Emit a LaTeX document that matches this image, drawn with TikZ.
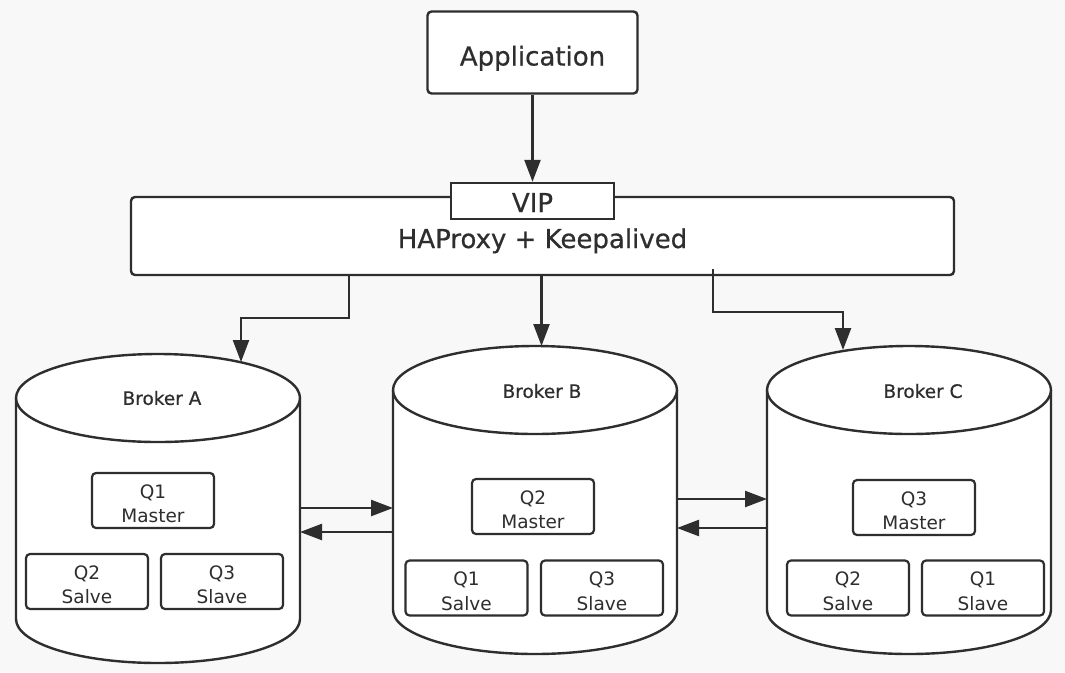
\documentclass[tikz,border=0pt]{standalone}
\usepackage{fontspec}
\setmainfont{DejaVu Sans}
\newfontfamily\heavyfont[FakeBold=0.6]{DejaVu Sans}
\usetikzlibrary{arrows.meta}
\definecolor{ink}{HTML}{2E2E2E}
\definecolor{bg}{HTML}{F8F8F8}
\newcommand{\cylbody}[3]{%
  \fill[white] (#1-142,#2) rectangle (#1+142,#3);
  \fill[white] (#1,#3) ellipse[x radius=142pt,y radius=44pt];
  \draw[cylline] (#1-142,#2) -- (#1-142,#3) arc[start angle=180,end angle=360,x radius=142pt,y radius=44pt] -- (#1+142,#2);
  \draw[cylline,fill=white] (#1,#2) ellipse[x radius=142pt,y radius=44pt];
}
\newcommand{\qlab}[2]{\smash{\raisebox{2.5pt}{\begin{tabular}[t]{@{}c@{}}#1\\#2\end{tabular}}}}
\newcommand{\baselab}[2]{\smash{\raisebox{-#1}{#2}}}
\begin{document}
\begin{tikzpicture}[x=1pt,y=-1pt,
  bigbox/.style={draw=ink, fill=white, rounded corners=4pt, line width=2.4pt, inner sep=0pt, text=ink, font=\heavyfont\fontsize{26}{30}\selectfont},
  vipbox/.style={draw=ink, fill=white, line width=2.4pt, inner sep=0pt, text=ink, font=\heavyfont\fontsize{26}{30}\selectfont, minimum width=163pt, minimum height=36pt},
  qbox/.style={draw=ink, fill=white, rounded corners=4pt, line width=2.2pt, minimum width=122pt, minimum height=55pt, inner sep=0pt, align=center, font=\fontsize{18.5}{24.5}\selectfont, text=ink},
  conn/.style={draw=ink, line width=2.4pt, -{Triangle[length=22pt,width=16pt]}},
  cylline/.style={draw=ink, line width=2.4pt},
  lbl/.style={text=ink, font=\heavyfont\fontsize{18.5}{22}\selectfont, inner sep=0pt}
]
\fill[bg] (0,0) rectangle (1065,672);
\useasboundingbox (0,0) rectangle (1065,672);

% top part
\node[bigbox, minimum width=210pt, minimum height=82pt] (app) at (532.5,52.5) {\baselab{13pt}{Application}};
\node[bigbox, minimum width=823pt, minimum height=78pt] (hap) at (542.5,236) {\baselab{12pt}{HAProxy + Keepalived}};
\node[vipbox] (vip) at (532.5,201) {\baselab{11pt}{VIP}};
\draw[conn] (app.south) -- (vip.north);

% brokers
\cylbody{158}{398}{619}
\cylbody{535}{390}{610}
\cylbody{909}{390}{610}
\node[lbl] (bA) at (162,398) {Broker A};
\node[lbl] (bB) at (542,391) {Broker B};
\node[lbl] (bC) at (923,391) {Broker C};

% queues
\node[qbox] (a1) at (153,500.5) {\qlab{Q1}{Master}};
\node[qbox] (a2) at (87,581.5) {\qlab{Q2}{Salve}};
\node[qbox] (a3) at (222,581.5) {\qlab{Q3}{Slave}};
\node[qbox] (b2) at (533,506.5) {\qlab{Q2}{Master}};
\node[qbox] (b1) at (466.5,588) {\qlab{Q1}{Salve}};
\node[qbox] (b3) at (602,588) {\qlab{Q3}{Slave}};
\node[qbox] (c3) at (914,507.5) {\qlab{Q3}{Master}};
\node[qbox] (c2) at (848,588) {\qlab{Q2}{Salve}};
\node[qbox] (c1) at (983,588) {\qlab{Q1}{Slave}};

% connector anchors
\coordinate (hA) at (349,275);
\coordinate (hB) at (541.5,275);
\coordinate (hC) at (713,269);
\coordinate (tA) at (241,362);
\coordinate (tB) at (541.5,346);
\coordinate (tC) at (843,350);
\coordinate (aR1) at (300,508);
\coordinate (aR2) at (300,532);
\coordinate (bL1) at (393,508);
\coordinate (bL2) at (393,532);
\coordinate (bR1) at (677,499);
\coordinate (bR2) at (677,528);
\coordinate (cL1) at (767,499);
\coordinate (cL2) at (767,528);

\draw[conn] (hA) -- ++(0,43) -| (tA);
\draw[conn] (hB) -- (tB);
\draw[conn] (hC) -- ++(0,43) -| (tC);
\draw[conn] (aR1) -- (bL1);
\draw[conn] (bL2) -- (aR2);
\draw[conn] (bR1) -- (cL1);
\draw[conn] (cL2) -- (bR2);
\end{tikzpicture}
\end{document}
